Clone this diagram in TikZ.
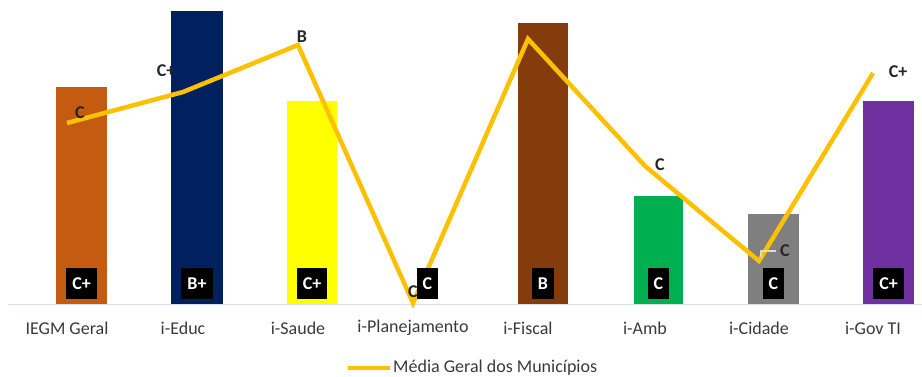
\documentclass[tikz,border=0pt]{standalone}
\usepackage{fontspec}
\setmainfont{Carlito}
\usepackage{tikz}
\usetikzlibrary{calc}
\definecolor{laranja}{HTML}{C55A11}
\definecolor{marinho}{HTML}{002060}
\definecolor{amarelo}{HTML}{FFFF00}
\definecolor{marrom}{HTML}{843C0C}
\definecolor{verde}{HTML}{00B050}
\definecolor{cinza}{HTML}{7F7F7F}
\definecolor{roxo}{HTML}{7030A0}
\definecolor{ouro}{HTML}{FFC000}
\definecolor{eixocor}{HTML}{D9DEE8}
\definecolor{textocor}{HTML}{3A3A3A}

\begin{document}
\begin{tikzpicture}[x=1pt,y=-1pt,
    nota/.style={fill=black, text=white, inner xsep=6pt, inner ysep=0pt,
      minimum height=31pt, font=\bfseries\fontsize{18}{18}\selectfont},
    categoria/.style={text=textocor, font=\fontsize{18}{20}\selectfont},
    media/.style={text=black!85, inner sep=1pt, font=\bfseries\fontsize{18}{18}\selectfont},
    linha/.style={draw=ouro, line width=4.5pt, line join=miter}]
      \useasboundingbox (0,0) rectangle (922,376);

      % barras
      \fill[laranja] (56,304) rectangle (107,87);
      \fill[marinho] (171,304) rectangle (223,11);
      \fill[amarelo] (287,304) rectangle (337,101);
      \fill[marrom] (518,304) rectangle (568,23);
      \fill[verde] (634,304) rectangle (683,196);
      \fill[cinza] (748,304) rectangle (799,214);
      \fill[roxo] (863,304) rectangle (914,101);
      \draw[eixocor, line width=1pt] (8,304) -- (922,304);

      % media geral
      \coordinate (iegm) at (67,123);
      \coordinate (educ) at (183,92);
      \coordinate (saude) at (298,45);
      \coordinate (plan) at (413,303);
      \coordinate (fiscal) at (528,39);
      \coordinate (amb) at (645,166);
      \coordinate (cidade) at (759,261);
      \coordinate (govti) at (873,73);
      \draw[linha] (iegm) -- (educ) -- (saude) -- (plan) -- (fiscal) -- (amb) -- (cidade) -- (govti);

      \node[media] (m1) at (80,113) {C};
      \node[media] (m2) at (166,71) {C+};
      \node[media] (m3) at (302,37) {B};
      \node[media] (m4) at (413,292) {C};
      \node[media] (m6) at (660,165) {C};
      \node[media] (m7) at (785,251) {C};
      \node[media] (m8) at (898,72) {C+};
      \draw[gray!30, line width=1.5pt] (m7.west) ++(-3,0) coordinate (g1) -- (761,251) coordinate (g2) -- ++(0,6);

      % notas
      \node[nota] (n1) at (81.5,283.5) {C+};
      \node[nota] (n2) at (197,283.5) {B+};
      \node[nota] (n3) at (312,283.5) {C+};
      \node[nota] (n4) at (427.5,283.5) {C};
      \node[nota] (n5) at (543,283.5) {B};
      \node[nota] (n6) at (658.5,283.5) {C};
      \node[nota] (n7) at (773.5,283.5) {C};
      \node[nota] (n8) at (888.5,283.5) {C+};

      % categorias
      \node[categoria] (c1) at (67,328) {IEGM Geral};
      \node[categoria] (c2) at (183,328) {i-Educ};
      \node[categoria] (c3) at (298,328) {i-Saude};
      \node[categoria] (c4) at (413,328) {i-Planejamento};
      \node[categoria] (c5) at (528,328) {i-Fiscal};
      \node[categoria] (c6) at (645,328) {i-Amb};
      \node[categoria] (c7) at (759,328) {i-Cidade};
      \node[categoria] (c8) at (873,328) {i-Gov TI};

      % legenda
      \coordinate (l1) at (348,368);
      \coordinate (l2) at (390,368);
      \node[categoria, anchor=west, inner sep=0pt] (leg) at (393,368) {Média Geral dos Municípios};
      \draw[linha] (l1) -- (l2);
    \end{tikzpicture}
\end{document}
